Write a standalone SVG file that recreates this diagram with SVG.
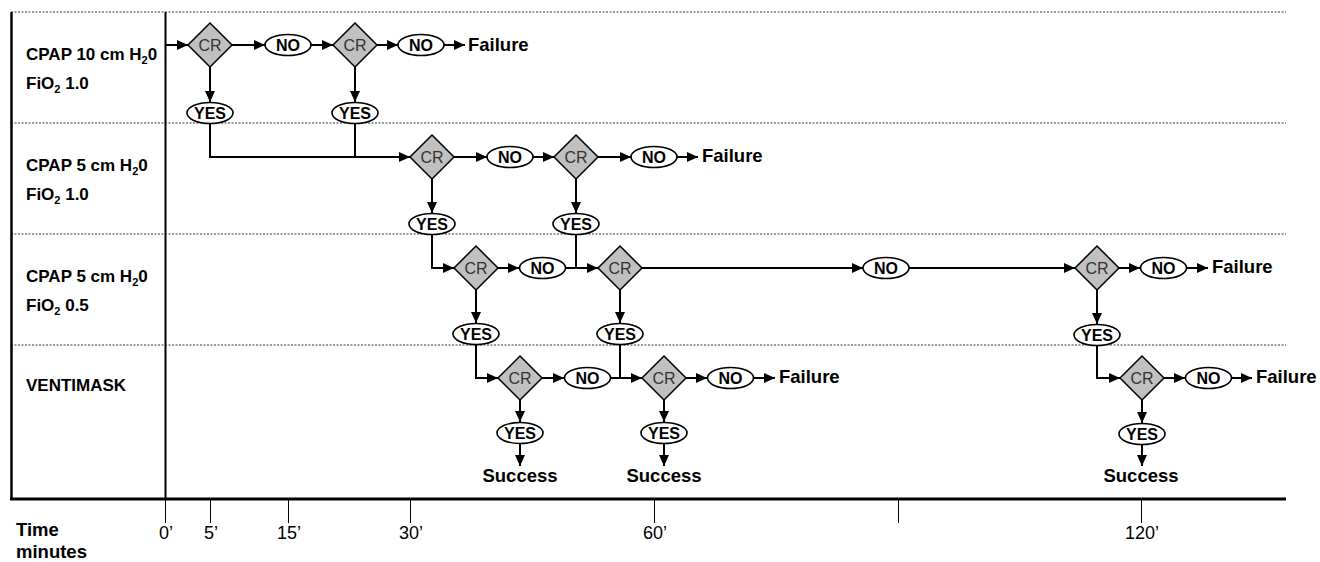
<svg xmlns="http://www.w3.org/2000/svg" width="1320" height="562" viewBox="0 0 1320 562">
<defs>
<style>
.ln{stroke:#000;stroke-width:2;fill:none}
.ar{marker-end:url(#ah)}
.dm{fill:#c0c0c0;stroke:#000;stroke-width:1.5}
.el{fill:#fff;stroke:#000;stroke-width:1.6}
.cr{font-family:"Liberation Sans",Arial,sans-serif;font-size:16px;fill:#333;text-anchor:middle}
.ov{font-family:"Liberation Sans",Arial,sans-serif;font-size:16px;font-weight:bold;fill:#000;text-anchor:middle}
.big{font-family:"Liberation Sans",Arial,sans-serif;font-size:18.5px;font-weight:bold;fill:#000}
.lab{font-family:"Liberation Sans",Arial,sans-serif;font-size:17px;font-weight:bold;fill:#000}
.tk{font-family:"Liberation Sans",Arial,sans-serif;font-size:18px;fill:#000;text-anchor:middle}
.dot{stroke:#333;stroke-width:1;stroke-dasharray:2 1.5;fill:none}
.frame{stroke:#000;fill:none}
.tick{stroke:#000;stroke-width:1}
</style>
<marker id="ah" markerUnits="userSpaceOnUse" markerWidth="11" markerHeight="10" refX="11" refY="5" orient="auto">
<path d="M0,0 L11,5 L0,10 z" fill="#000"/>
</marker>
</defs>
<rect width="1320" height="562" fill="#fff"/>

<g id="grid">
<line class="dot" x1="11" y1="12" x2="1286" y2="12"/>
<line class="dot" x1="11" y1="123" x2="1286" y2="123"/>
<line class="dot" x1="11" y1="234" x2="1286" y2="234"/>
<line class="dot" x1="11" y1="345" x2="1286" y2="345"/>
<line class="frame" stroke-width="2.5" x1="11.5" y1="12" x2="11.5" y2="500"/>
<line class="frame" stroke-width="2" x1="165.5" y1="12" x2="165.5" y2="499"/>
<line class="frame" stroke-width="3" x1="10" y1="499" x2="1286" y2="499"/>
</g>

<g id="row-labels">
<text class="lab" x="26" y="60">CPAP 10 cm H<tspan font-size="11" dy="4">2</tspan><tspan dy="-4">0</tspan></text>
<text class="lab" x="26" y="89">FiO<tspan font-size="11" dy="4">2</tspan><tspan dy="-4"> 1.0</tspan></text>
<text class="lab" x="26" y="171">CPAP 5 cm H<tspan font-size="11" dy="4">2</tspan><tspan dy="-4">0</tspan></text>
<text class="lab" x="26" y="200">FiO<tspan font-size="11" dy="4">2</tspan><tspan dy="-4"> 1.0</tspan></text>
<text class="lab" x="26" y="282">CPAP 5 cm H<tspan font-size="11" dy="4">2</tspan><tspan dy="-4">0</tspan></text>
<text class="lab" x="26" y="311">FiO<tspan font-size="11" dy="4">2</tspan><tspan dy="-4"> 0.5</tspan></text>
<text class="lab" x="26" y="391">VENTIMASK</text>
</g>

<g id="axis">
<line class="tick" x1="165.5" y1="500" x2="165.5" y2="523"/>
<line class="tick" x1="210.5" y1="500" x2="210.5" y2="523"/>
<line class="tick" x1="288.5" y1="500" x2="288.5" y2="523"/>
<line class="tick" x1="410.5" y1="500" x2="410.5" y2="523"/>
<line class="tick" x1="654.5" y1="500" x2="654.5" y2="523"/>
<line class="tick" x1="898.5" y1="500" x2="898.5" y2="523"/>
<line class="tick" x1="1141.5" y1="500" x2="1141.5" y2="523"/>
<text class="big" x="16" y="536">Time</text>
<text class="big" x="16" y="558">minutes</text>
<text class="tk" x="166" y="539">0’</text>
<text class="tk" x="211" y="539">5’</text>
<text class="tk" x="289" y="539">15’</text>
<text class="tk" x="411" y="539">30’</text>
<text class="tk" x="655" y="539">60’</text>
<text class="tk" x="1142" y="539">120’</text>
</g>

<g id="connectors">
<line class="ln ar" x1="166" y1="45" x2="188" y2="45"/>
<line class="ln ar" x1="232" y1="45" x2="265" y2="45"/>
<line class="ln ar" x1="311" y1="45" x2="333" y2="45"/>
<line class="ln ar" x1="377" y1="45" x2="398" y2="45"/>
<line class="ln ar" x1="444" y1="45" x2="465" y2="45"/>
<line class="ln ar" x1="210" y1="67" x2="210" y2="102"/>
<line class="ln ar" x1="355" y1="67" x2="355" y2="102"/>
<polyline class="ln ar" points="210,123 210,157 410,157"/>
<line class="ln" x1="355" y1="123" x2="355" y2="157"/>
<line class="ln ar" x1="454" y1="157" x2="487" y2="157"/>
<line class="ln ar" x1="533" y1="157" x2="554" y2="157"/>
<line class="ln ar" x1="598" y1="157" x2="631" y2="157"/>
<line class="ln ar" x1="677" y1="157" x2="698" y2="157"/>
<line class="ln ar" x1="432" y1="179" x2="432" y2="213"/>
<line class="ln ar" x1="576" y1="179" x2="576" y2="213"/>
<polyline class="ln ar" points="432,234 432,268 454,268"/>
<line class="ln ar" x1="498" y1="268" x2="519" y2="268"/>
<line class="ln ar" x1="566" y1="268" x2="598" y2="268"/>
<line class="ln" x1="576" y1="234" x2="576" y2="268"/>
<line class="ln ar" x1="642" y1="268" x2="863" y2="268"/>
<line class="ln ar" x1="909" y1="268" x2="1075" y2="268"/>
<line class="ln ar" x1="1119" y1="268" x2="1140" y2="268"/>
<line class="ln ar" x1="1187" y1="268" x2="1208" y2="268"/>
<line class="ln ar" x1="476" y1="290" x2="476" y2="323"/>
<line class="ln ar" x1="620" y1="290" x2="620" y2="323"/>
<line class="ln ar" x1="1097" y1="290" x2="1097" y2="324"/>
<polyline class="ln ar" points="476,344 476,378 498,378"/>
<line class="ln ar" x1="542" y1="378" x2="564" y2="378"/>
<line class="ln ar" x1="611" y1="378" x2="642" y2="378"/>
<line class="ln" x1="620" y1="344" x2="620" y2="378"/>
<line class="ln ar" x1="686" y1="378" x2="707" y2="378"/>
<line class="ln ar" x1="754" y1="378" x2="775" y2="378"/>
<line class="ln ar" x1="520" y1="400" x2="520" y2="422"/>
<line class="ln ar" x1="664" y1="400" x2="664" y2="422"/>
<line class="ln ar" x1="520" y1="444" x2="520" y2="466"/>
<line class="ln ar" x1="664" y1="444" x2="664" y2="466"/>
<polyline class="ln ar" points="1097,345 1097,378 1120,378"/>
<line class="ln ar" x1="1164" y1="378" x2="1185" y2="378"/>
<line class="ln ar" x1="1232" y1="378" x2="1252" y2="378"/>
<line class="ln ar" x1="1142" y1="400" x2="1142" y2="423"/>
<line class="ln ar" x1="1142" y1="445" x2="1142" y2="466"/>
</g>

<g id="d1" transform="translate(210,45)"><polygon class="dm" points="0,-22 22,0 0,22 -22,0"/><text class="cr" y="5.7">CR</text></g>
<g id="no1" transform="translate(288,45)"><ellipse class="el" rx="23" ry="10.5"/><text class="ov" y="5.7">NO</text></g>
<g id="d2" transform="translate(355,45)"><polygon class="dm" points="0,-22 22,0 0,22 -22,0"/><text class="cr" y="5.7">CR</text></g>
<g id="no2" transform="translate(421,45)"><ellipse class="el" rx="23" ry="10.5"/><text class="ov" y="5.7">NO</text></g>
<g id="fail1"><text class="big" x="468" y="51">Failure</text></g>
<g id="yes1" transform="translate(210,113)"><ellipse class="el" rx="23" ry="10.5"/><text class="ov" y="5.7">YES</text></g>
<g id="yes2" transform="translate(355,113)"><ellipse class="el" rx="23" ry="10.5"/><text class="ov" y="5.7">YES</text></g>

<g id="d3" transform="translate(432,157)"><polygon class="dm" points="0,-22 22,0 0,22 -22,0"/><text class="cr" y="5.7">CR</text></g>
<g id="no3" transform="translate(510,157)"><ellipse class="el" rx="23" ry="10.5"/><text class="ov" y="5.7">NO</text></g>
<g id="d4" transform="translate(576,157)"><polygon class="dm" points="0,-22 22,0 0,22 -22,0"/><text class="cr" y="5.7">CR</text></g>
<g id="no4" transform="translate(654,157)"><ellipse class="el" rx="23" ry="10.5"/><text class="ov" y="5.7">NO</text></g>
<g id="fail2"><text class="big" x="702" y="162">Failure</text></g>
<g id="yes3" transform="translate(432,224)"><ellipse class="el" rx="23" ry="10.5"/><text class="ov" y="5.7">YES</text></g>
<g id="yes4" transform="translate(576,224)"><ellipse class="el" rx="23" ry="10.5"/><text class="ov" y="5.7">YES</text></g>

<g id="d5" transform="translate(476,268)"><polygon class="dm" points="0,-22 22,0 0,22 -22,0"/><text class="cr" y="5.7">CR</text></g>
<g id="no5" transform="translate(542.5,268)"><ellipse class="el" rx="23" ry="10.5"/><text class="ov" y="5.7">NO</text></g>
<g id="d6" transform="translate(620,268)"><polygon class="dm" points="0,-22 22,0 0,22 -22,0"/><text class="cr" y="5.7">CR</text></g>
<g id="no6" transform="translate(886,268)"><ellipse class="el" rx="23" ry="10.5"/><text class="ov" y="5.7">NO</text></g>
<g id="d9" transform="translate(1097,268)"><polygon class="dm" points="0,-22 22,0 0,22 -22,0"/><text class="cr" y="5.7">CR</text></g>
<g id="no9" transform="translate(1163.5,268)"><ellipse class="el" rx="23" ry="10.5"/><text class="ov" y="5.7">NO</text></g>
<g id="fail3"><text class="big" x="1212" y="273">Failure</text></g>
<g id="yes5" transform="translate(476,334)"><ellipse class="el" rx="23" ry="10.5"/><text class="ov" y="5.7">YES</text></g>
<g id="yes6" transform="translate(620,334)"><ellipse class="el" rx="23" ry="10.5"/><text class="ov" y="5.7">YES</text></g>
<g id="yes9" transform="translate(1097,335)"><ellipse class="el" rx="23" ry="10.5"/><text class="ov" y="5.7">YES</text></g>

<g id="d7" transform="translate(520,378)"><polygon class="dm" points="0,-22 22,0 0,22 -22,0"/><text class="cr" y="5.7">CR</text></g>
<g id="no7" transform="translate(587.5,378)"><ellipse class="el" rx="23" ry="10.5"/><text class="ov" y="5.7">NO</text></g>
<g id="d8" transform="translate(664,378)"><polygon class="dm" points="0,-22 22,0 0,22 -22,0"/><text class="cr" y="5.7">CR</text></g>
<g id="no8" transform="translate(730.5,378)"><ellipse class="el" rx="23" ry="10.5"/><text class="ov" y="5.7">NO</text></g>
<g id="fail4"><text class="big" x="779" y="383">Failure</text></g>
<g id="yes7" transform="translate(520,433)"><ellipse class="el" rx="23" ry="10.5"/><text class="ov" y="5.7">YES</text></g>
<g id="yes8" transform="translate(664,433)"><ellipse class="el" rx="23" ry="10.5"/><text class="ov" y="5.7">YES</text></g>
<g id="succ1"><text class="big" x="520" y="482" text-anchor="middle">Success</text></g>
<g id="succ2"><text class="big" x="664" y="482" text-anchor="middle">Success</text></g>

<g id="d10" transform="translate(1142,378)"><polygon class="dm" points="0,-22 22,0 0,22 -22,0"/><text class="cr" y="5.7">CR</text></g>
<g id="no10" transform="translate(1208.5,378)"><ellipse class="el" rx="23" ry="10.5"/><text class="ov" y="5.7">NO</text></g>
<g id="fail5"><text class="big" x="1256" y="383">Failure</text></g>
<g id="yes10" transform="translate(1142,434)"><ellipse class="el" rx="23" ry="10.5"/><text class="ov" y="5.7">YES</text></g>
<g id="succ3"><text class="big" x="1141" y="482" text-anchor="middle">Success</text></g>
</svg>
